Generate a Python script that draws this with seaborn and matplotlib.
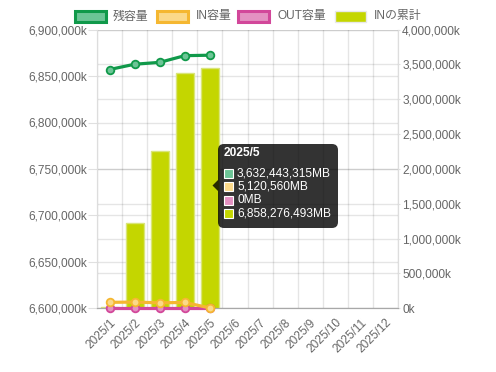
import matplotlib
matplotlib.use("Agg")
import matplotlib.pyplot as plt
import numpy as np
import pandas as pd
import seaborn as sns
from matplotlib.patches import FancyBboxPatch, Polygon, Rectangle
from matplotlib.ticker import FuncFormatter

# ---- data (MB) ----
months = ["2025/1", "2025/2", "2025/3", "2025/4", "2025/5", "2025/6",
          "2025/7", "2025/8", "2025/9", "2025/10", "2025/11", "2025/12"]
remain_mb = [3_427_000_000, 3_503_000_000, 3_530_000_000, 3_626_000_000, 3_632_443_315]
in_mb = [86_000_000, 89_000_000, 79_000_000, 84_000_000, 5_120_560]
out_mb = [0, 0, 0, 0, 0]
cum_in_mb = [6_601_000_000, 6_691_500_000, 6_769_500_000, 6_853_000_000, 6_858_276_493]
series_names = ["残容量", "IN容量", "OUT容量", "INの累計"]
tooltip_month = "2025/5"

line_colors = ["#10994a", "#f5b731", "#d2479a"]
fill_colors = ["#6cc596", "#fbd98a", "#e491c2"]
bar_color = "#c4d600"
text_gray = "#666666"

sns.set_style("white")
plt.rcParams["font.family"] = ["Liberation Sans", "Noto Sans CJK JP"]
FS = 8.6

W, H = 496, 372
fig = plt.figure(figsize=(W / 100, H / 100), dpi=100)
x0, x1, ytop, ybot = 97, 398, 29.6, 308.3
ax = fig.add_axes([x0 / W, (H - ybot) / H, (x1 - x0) / W, (ybot - ytop) / H])
ax2 = ax.twinx()

# bars (left axis, k units)
bar_df = pd.DataFrame({
    "month": months[:len(cum_in_mb)],
    "cum_k": np.array(cum_in_mb) / 1000,
})
sns.barplot(data=bar_df, x="month", y="cum_k", order=months, ax=ax,
            color=bar_color, edgecolor="#d9e57a", linewidth=1,
            width=0.72, errorbar=None, saturation=1)

# lines (right axis, k units)
pos = np.arange(len(remain_mb))
line_vals = [remain_mb, in_mb, out_mb]
for i in [2, 1, 0]:
    sns.lineplot(x=pos, y=np.array(line_vals[i]) / 1000, ax=ax2,
                 color=line_colors[i], lw=2.3, marker="o", markersize=5.5,
                 markerfacecolor=fill_colors[i], markeredgecolor=line_colors[i],
                 markeredgewidth=1.3, zorder=3 + (2 - i), clip_on=False)

lmin, lmax, lstep = 6_600_000, 6_900_000, 50_000
rmin, rmax, rstep = 0, 4_000_000, 500_000
ax.set_ylim(lmin, lmax)
ax2.set_ylim(rmin, rmax)
ax.set_xlim(-0.5, len(months) - 0.5)
ax.set_xlabel("")
ax.set_ylabel("")
ax2.set_ylabel("")

kfmt = FuncFormatter(lambda v, _: f"{v:,.0f}k")
ax.set_yticks(np.arange(lmin, lmax + 1, lstep))
ax2.set_yticks(np.arange(rmin, rmax + 1, rstep))
ax.yaxis.set_major_formatter(kfmt)
ax2.yaxis.set_major_formatter(kfmt)

# grid: both scales drawn behind bars on the left axes
ax.set_axisbelow(True)
ax.grid(axis="y", color="black", alpha=0.1, lw=1)
for v in np.arange(rmin, rmax + 1, rstep):
    ax.axhline(lmin + (v - rmin) / (rmax - rmin) * (lmax - lmin),
               color="black", alpha=0.1, lw=1, zorder=0)
ax.set_xticks(np.arange(-0.5, len(months)), minor=True)
ax.grid(axis="x", which="minor", color="black", alpha=0.1, lw=1)
ax.grid(axis="x", which="major", visible=False)

ax.set_xticks(np.arange(len(months)))
ax.set_xticklabels(months, rotation=45, ha="right", rotation_mode="anchor")
ax.tick_params(axis="x", which="major", length=0, pad=6, labelsize=FS, labelcolor=text_gray)
ax.tick_params(axis="x", which="minor", length=5, color="#e0e0e0")
ax.tick_params(axis="y", length=6.5, pad=0.8, color="#e0e0e0", labelsize=FS, labelcolor=text_gray)
ax2.tick_params(axis="y", length=1.5, pad=1.5, color="#e0e0e0", labelsize=FS, labelcolor=text_gray)

for a in (ax, ax2):
    a.spines["top"].set_visible(False)
    a.spines["left"].set_color("#dddddd")
    a.spines["right"].set_color("#dddddd")
    a.spines["bottom"].set_color("#a8a8a8")

# ---- overlay in pixel coords: legend + tooltip ----
ov = fig.add_axes([0, 0, 1, 1])
ov.set_xlim(0, W)
ov.set_ylim(H, 0)
ov.axis("off")
ov.set_zorder(10)

leg_boxes = [75, 157, 238, 335]
leg_text = [113, 196, 277, 374]
for i, name in enumerate(series_names):
    if i < 3:
        ov.add_patch(Rectangle((leg_boxes[i], 11), 31, 11, facecolor=fill_colors[i],
                               edgecolor=line_colors[i], lw=2.2))
    else:
        ov.add_patch(Rectangle((leg_boxes[i], 11), 31, 11, facecolor=bar_color,
                               edgecolor="#e8e8e8", lw=1))
    ov.text(leg_text[i], 16.5, name, color=text_gray, fontsize=FS, va="center", ha="left")

k = months.index(tooltip_month)
ov.add_patch(FancyBboxPatch((218, 144), 120, 84, boxstyle="round,pad=0,rounding_size=6",
                            facecolor="black", alpha=0.8, lw=0))
ov.add_patch(Polygon([(218, 180), (212.5, 185.5), (218, 191)], closed=True,
                     facecolor="black", alpha=0.8, lw=0))
ov.text(224, 153.5, tooltip_month, color="white", fontsize=FS, fontweight="bold",
        va="center", ha="left")
tip_vals = [remain_mb[k], in_mb[k], out_mb[k], cum_in_mb[k]]
tip_fill = fill_colors + [bar_color]
rows_y = [173.3, 186.8, 200.2, 213.6]
for i, v in enumerate(tip_vals):
    ov.add_patch(Rectangle((223.5, rows_y[i] - 4.5), 9, 9, facecolor=tip_fill[i],
                           edgecolor="white", lw=0.8))
    ov.text(237, rows_y[i], f"{v:,}MB", color="white", fontsize=FS, va="center", ha="left")

fig.savefig("out.png", dpi=100)
